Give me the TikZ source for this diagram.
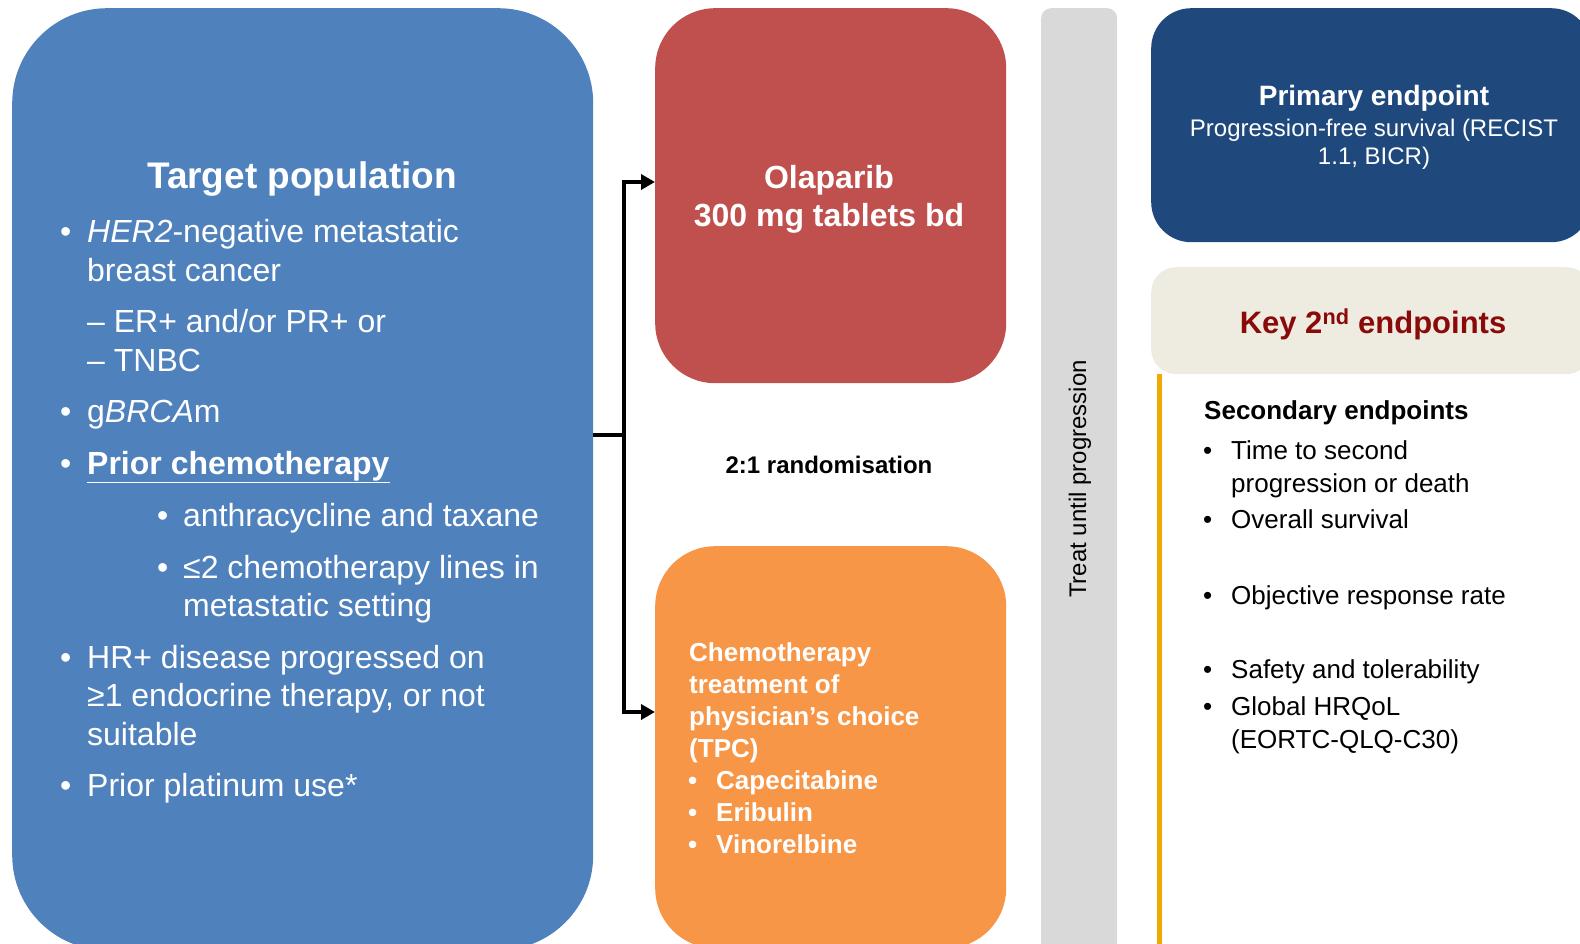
\documentclass[tikz,border=0pt]{standalone}
\usepackage{fontspec}
\setmainfont{Liberation Sans}
\usetikzlibrary{arrows.meta}
\definecolor{popblue}{HTML}{4F81BD}
\definecolor{armred}{HTML}{C0504D}
\definecolor{armorange}{HTML}{F79646}
\definecolor{bargrey}{HTML}{D9D9D9}
\definecolor{navyblue}{HTML}{1F497D}
\definecolor{beigebg}{HTML}{EEECE1}
\definecolor{keyred}{HTML}{8A0A0A}
\definecolor{goldline}{HTML}{EEAA00}
\tikzset{
  boxshape/.style={draw=none, inner sep=0pt, anchor=north west},
  lt/.style={anchor=mid west, inner sep=0pt, yshift=-9pt, text=white, font=\fontsize{32}{38}\selectfont},
  ot/.style={anchor=mid west, inner sep=0pt, yshift=-7pt, text=white, font=\bfseries\fontsize{26}{31}\selectfont},
  st/.style={anchor=mid west, inner sep=0pt, yshift=-7pt, text=black, font=\fontsize{26}{31}\selectfont},
  ct/.style={anchor=mid, inner sep=0pt},
  conn/.style={line width=4pt, black},
  arr/.style={-{Triangle[length=14pt,width=15pt]}}
}
\begin{document}
\begin{tikzpicture}[x=1pt,y=-1pt]
\useasboundingbox (0,0) rectangle (1580,944);
\clip (0,0) rectangle (1580,944);
\fill[white] (0,0) rectangle (1580,944);
% boxes
\node[boxshape, fill=popblue, rounded corners=95pt, minimum width=581pt, minimum height=942pt] (pop) at (12,8) {};
\node[boxshape, fill=armred, rounded corners=60pt, minimum width=351pt, minimum height=375pt] (olap) at (655,8) {};
\node[boxshape, fill=armorange, rounded corners=60pt, minimum width=351pt, minimum height=402pt] (tpc) at (655,546) {};
\node[boxshape, fill=bargrey, rounded corners=10pt, minimum width=76pt, minimum height=960pt] (bar) at (1041,8) {};
\node[boxshape, fill=navyblue, rounded corners=40pt, minimum width=440pt, minimum height=234pt] (prim) at (1151,8) {};
\node[boxshape, fill=beigebg, rounded corners=25pt, minimum width=440pt, minimum height=107pt] (key) at (1151,267) {};
\coordinate (goldtop) at (1159.5,374);
\coordinate (goldbot) at (1159.5,944);
\draw[goldline, line width=5pt] (goldtop) -- (goldbot);

% connectors
\coordinate (split) at (624,435);
\coordinate (redin) at (655,182);
\coordinate (orin) at (655,712);
\draw[conn] (pop.east |- split) -- (split);
\draw[conn, arr] (split) |- (redin);
\draw[conn, arr] (split) |- (orin);

% population text
\node[ct, yshift=-10pt, text=white, font=\bfseries\fontsize{37}{44}\selectfont] (poptitle) at (302,176) {Target population};
\node[lt] (pb1) at (60,231) {•};
\node[lt] (pt1) at (87,231) {\textit{HER2}-negative metastatic};
\node[lt] (pt2) at (87,270) {breast cancer};
\node[lt] (pt3) at (87,321) {– ER+ and/or PR+ or};
\node[lt] (pt4) at (87,360) {– TNBC};
\node[lt] (pb2) at (60,411) {•};
\node[lt] (pt5) at (87,411) {g\textit{BRCA}m};
\node[lt] (pb3) at (60,463) {•};
\node[lt] (pt6) at (87,463) {\bfseries\underline{Prior chemotherapy}};
\node[lt] (pb4) at (157,515) {•};
\node[lt] (pt7) at (183,515) {anthracycline and taxane};
\node[lt] (pb5) at (157,567) {•};
\node[lt] (pt8) at (183,567) {≤2 chemotherapy lines in};
\node[lt] (pt9) at (183,605) {metastatic setting};
\node[lt] (pb6) at (60,657) {•};
\node[lt] (pt10) at (87,657) {HR+ disease progressed on};
\node[lt] (pt11) at (87,695) {≥1 endocrine therapy, or not};
\node[lt] (pt12) at (87,734) {suitable};
\node[lt] (pb7) at (60,785) {•};
\node[lt] (pt13) at (87,785) {Prior platinum use*};

% olaparib
\node[ct, yshift=-9pt, text=white, font=\bfseries\fontsize{32}{38}\selectfont] (ol1) at (829,177) {Olaparib};
\node[ct, yshift=-9pt, text=white, font=\bfseries\fontsize{32}{38}\selectfont] (ol2) at (829,215) {300 mg tablets bd};
\node[ct, yshift=-6pt, text=black, font=\bfseries\fontsize{24}{28}\selectfont] (rand) at (829,465) {2:1 randomisation};

% TPC
\node[ot] (o1) at (689,652) {Chemotherapy};
\node[ot] (o2) at (689,684) {treatment of};
\node[ot] (o3) at (689,716) {physician’s choice};
\node[ot] (o4) at (689,748) {(TPC)};
\node[ot] (ob1) at (688,780) {•};
\node[ot] (o5) at (716,780) {Capecitabine};
\node[ot] (ob2) at (688,812) {•};
\node[ot] (o6) at (716,812) {Eribulin};
\node[ot] (ob3) at (688,844) {•};
\node[ot] (o7) at (716,844) {Vinorelbine};

% bar text
\node[rotate=90, inner sep=0pt, text=black, font=\fontsize{24}{28}\selectfont] (treat) at (1080,479) {Treat until progression};

% primary
\node[ct, yshift=-7pt, text=white, font=\bfseries\fontsize{28}{33}\selectfont] (p1) at (1374,96) {Primary endpoint};
\node[ct, yshift=-6pt, text=white, font=\fontsize{24}{28}\selectfont] (p2) at (1374,128) {Progression-free survival (RECIST};
\node[ct, yshift=-6pt, text=white, font=\fontsize{24}{28}\selectfont] (p3) at (1374,156) {1.1, BICR)};

% key secondary
\node[ct, yshift=-9pt, text=keyred, font=\bfseries\fontsize{31}{37}\selectfont] (k1) at (1373,322) {Key 2\textsuperscript{nd} endpoints};
\node[st, font=\bfseries\fontsize{26}{31}\selectfont] (s0) at (1204,410) {Secondary endpoints};
\node[st] (sb1) at (1203,450) {•};
\node[st] (s1) at (1231,450) {Time to second};
\node[st] (s2) at (1231,483) {progression or death};
\node[st] (sb2) at (1203,519) {•};
\node[st] (s3) at (1231,519) {Overall survival};
\node[st] (sb3) at (1203,595) {•};
\node[st] (s4) at (1231,595) {Objective response rate};
\node[st] (sb4) at (1203,669) {•};
\node[st] (s5) at (1231,669) {Safety and tolerability};
\node[st] (sb5) at (1203,706) {•};
\node[st] (s6) at (1231,706) {Global HRQoL};
\node[st] (s7) at (1231,739) {(EORTC-QLQ-C30)};
\end{tikzpicture}
\end{document}
